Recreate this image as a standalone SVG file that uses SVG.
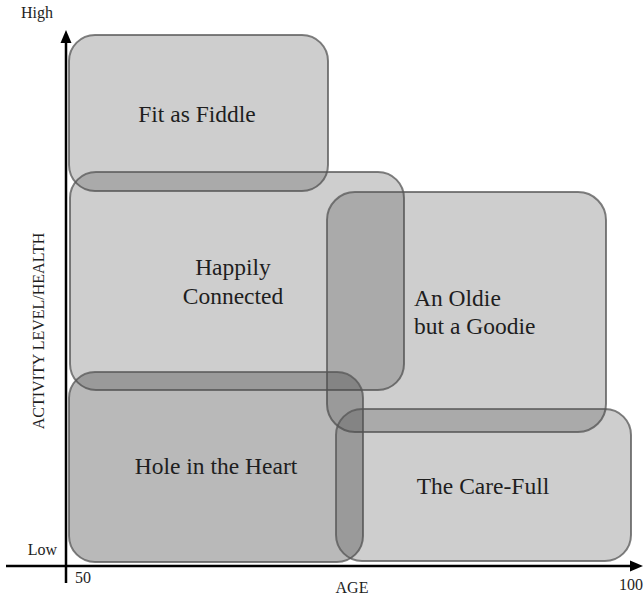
<svg xmlns="http://www.w3.org/2000/svg" width="644" height="597" viewBox="0 0 644 597">
<style>
.box{fill:#464646;fill-opacity:0.265;stroke:#555;stroke-opacity:0.75;stroke-width:2}
.dark{fill-opacity:0.38}
.lbl{font-family:"Liberation Serif",serif;font-size:23.5px;fill:#1e1e1e}
.ax{font-family:"Liberation Serif",serif;font-size:16px;fill:#1e1e1e}
.axis{stroke:#000;stroke-width:2.5;fill:none}
</style>
<rect width="644" height="597" fill="#fff"/>
<g id="connectors">
<line class="axis" x1="66" y1="40" x2="66" y2="583"/>
<polygon points="66,30 60.5,43 71.5,43" fill="#000"/>
<line class="axis" x1="6" y1="566" x2="632" y2="566"/>
<polygon points="643,566 630,560.5 630,571.5" fill="#000"/>
</g>
<g id="fit-as-fiddle">
<rect class="box" x="69" y="35" width="259" height="156" rx="26"/>
<text class="lbl" x="197" y="122" text-anchor="middle">Fit as Fiddle</text>
</g>
<g id="happily-connected">
<rect class="box" x="70" y="172" width="334" height="218" rx="26"/>
<text class="lbl" x="233" y="275" text-anchor="middle">Happily</text>
<text class="lbl" x="233" y="304" text-anchor="middle">Connected</text>
</g>
<g id="oldie-goodie">
<rect class="box" x="327" y="192" width="279" height="240" rx="28"/>
<text class="lbl" x="414" y="306">An Oldie</text>
<text class="lbl" x="414" y="334">but a Goodie</text>
</g>
<g id="hole-in-heart">
<rect class="box dark" x="69" y="372" width="294" height="190" rx="26"/>
<text class="lbl" x="216" y="474" text-anchor="middle">Hole in the Heart</text>
</g>
<g id="care-full">
<rect class="box" x="336" y="409" width="295" height="152" rx="26"/>
<text class="lbl" x="483" y="494" text-anchor="middle">The Care-Full</text>
</g>
<g id="axis-labels">
<text class="ax" x="21" y="18">High</text>
<text class="ax" x="57" y="555" text-anchor="end">Low</text>
<text class="ax" x="75" y="583">50</text>
<text class="ax" x="352" y="593" text-anchor="middle">AGE</text>
<text class="ax" x="643" y="590" text-anchor="end">100</text>
<text class="ax" transform="translate(44,331) rotate(-90)" text-anchor="middle">ACTIVITY LEVEL/HEALTH</text>
</g>
</svg>
